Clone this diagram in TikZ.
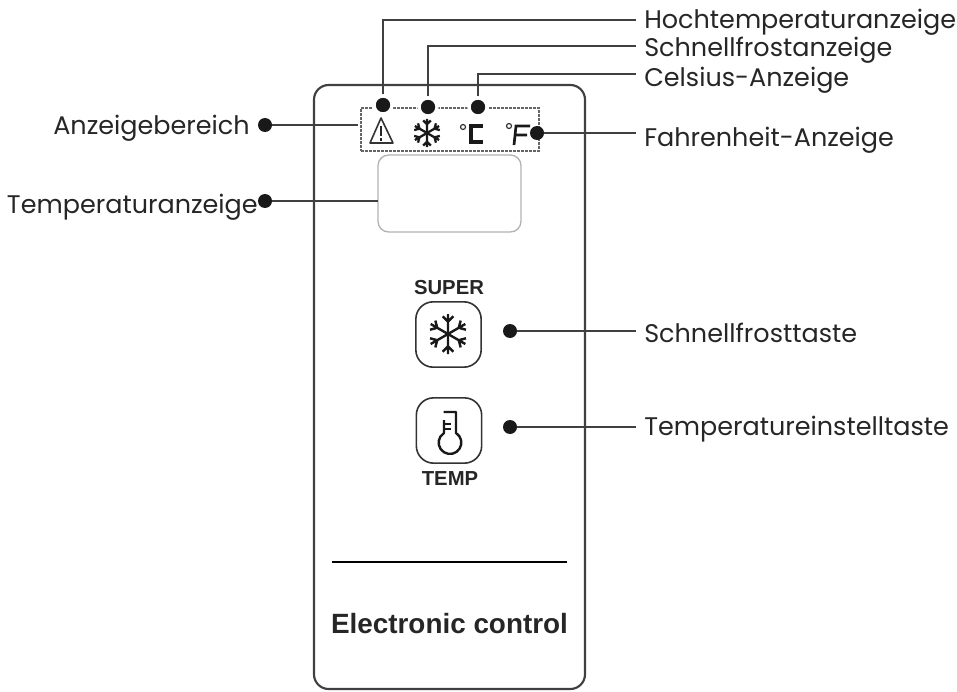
\documentclass[tikz,border=0pt]{standalone}
\usepackage{fontspec}
\setmainfont{Poppins}
\newfontfamily\panelfont{Liberation Sans}
\usetikzlibrary{calc}

% snowflake: #1 line options, #2 centre, #3 arm length, #4 barb length
\newcommand{\flake}[4][thick]{
  \foreach \ang in {30,90,150,210,270,330}{
    \draw[#1,rotate around={\ang:#2}] #2 -- ++(#3,0)
      ($#2+(0.62*#3,0)$) -- ++(45:#4)
      ($#2+(0.62*#3,0)$) -- ++(-45:#4);
  }
}

\begin{document}
\begin{tikzpicture}[x=0.75pt,y=-0.75pt,
    label node/.style={anchor=west,inner sep=3pt,text height=14pt,text depth=4pt,
                       font=\fontsize{19.1}{21}\selectfont,text=black!85},
    dot node/.style={circle,fill=black!90,inner sep=0pt,minimum size=14*0.75pt},
    halo node/.style={dot node,draw=white,line width=2.5pt,minimum size=18*0.75pt},
    lead/.style={line width=1.7pt,black!75},
    degree/.style={circle,draw=black!80,line width=0.9pt,inner sep=0pt,minimum size=5*0.75pt},
    panel text/.style={text=black!85,inner sep=0pt},
    key box/.style={draw=black!80,line width=1.2pt,rounded corners=13pt,inner sep=0pt,minimum size=49pt}]

  \useasboundingbox (0,0) rectangle (957,692);

  % panel
  \node[draw=black!75,line width=1.6pt,rounded corners=11pt,inner sep=0pt,
        minimum width=271*0.75pt,minimum height=604*0.75pt] (panel) at (449.5,387) {};
  \node[draw=black!60,dash pattern=on 2pt off 1pt,line width=1pt,inner sep=0pt,
        minimum width=178*0.75pt,minimum height=43*0.75pt] (area) at (450,129.5) {};
  \node[draw=black!30,line width=1pt,rounded corners=8pt,inner sep=0pt,
        minimum width=143*0.75pt,minimum height=77*0.75pt] (display) at (449.5,193.5) {};

  % symbols of the display row
  \draw[black!80,line width=1.2pt,line join=round] (370,143) -- (381,118) -- (393,143) -- cycle;
  \draw[black!85,line width=1.5pt] (381,126) -- (381,136) (381,138) -- (381,141);
  \flake[black!90,line width=1.7pt]{(427,133)}{14}{5.5}
  \node[degree] (degc) at (463,127) {};
  \draw[black!90,line width=2.3pt] (483,126) -- (471,126) -- (471,142) -- (483,142);
  \node[degree] (degf) at (509,126) {};
  \draw[black!90,line width=2pt] (514,145) -- (516,126) -- (530,126) (515,135) -- (527,135);

  % keys
  \node[panel text,font=\panelfont\bfseries\fontsize{15.2}{16}\selectfont] (super) at (449,288) {SUPER};
  \node[key box] (superkey) at (448.5,334.5) {};
  \flake[black!90,line width=1.8pt]{(448,334)}{20}{7.5}
  \node[key box] (tempkey) at (449,430.5) {};
  \draw[black!90,line width=1.8pt,line join=round]
    (443.5,412) -- (456,412) -- (456,433) arc[start angle=58,end angle=-238,radius=8.5pt]
    -- (444,420);
  \draw[black!90,line width=1.5pt] (444,424) -- (451,424) (444,429) -- (451,429);
  \node[panel text,font=\panelfont\bfseries\fontsize{15.2}{16}\selectfont] (temp) at (450,479) {TEMP};

  \draw[black,line width=2.2pt] (332,562) coordinate (rulel) -- (567,562) coordinate (ruler);
  \node[panel text,font=\panelfont\bfseries\fontsize{20.9}{22}\selectfont] (brand) at (449.5,624) {Electronic control};

  % labels
  \node[label node] (1) at (640,22) {Hochtemperaturanzeige};
  \node[label node] (2) at (640,50) {Schnellfrostanzeige};
  \node[label node] (3) at (640,80) {Celsius-Anzeige};
  \node[label node] (4) at (640,140) {Fahrenheit-Anzeige};
  \node[label node] (5) at (640,336) {Schnellfrosttaste};
  \node[label node] (6) at (640,429) {Temperatureinstelltaste};
  \node[label node,anchor=east] (7) at (254,128) {Anzeigebereich};
  \node[label node,anchor=east] (8) at (262,207) {Temperaturanzeige};

  % dots
  \node[halo node] (d1) at (383,105) {};
  \node[halo node] (d2) at (428,107) {};
  \node[halo node] (d3) at (478,107) {};
  \node[dot node] (d4) at (537,133) {};
  \node[dot node] (d5) at (510,331) {};
  \node[dot node] (d6) at (510,427) {};
  \node[dot node] (d7) at (265,125) {};
  \node[dot node] (d8) at (265,201) {};
  \coordinate (e7) at (358,125);
  \coordinate (e8) at (378,201);
  \coordinate (e1) at (636,20);
  \coordinate (e2) at (636,46);
  \coordinate (e3) at (636,74);
  \coordinate (e4) at (636,133);
  \coordinate (e5) at (636,331);
  \coordinate (e6) at (636,427);

  \draw[lead] (d1) |- (e1);
  \draw[lead] (d2) |- (e2);
  \draw[lead] (d3) |- (e3);
  \draw[lead] (d4) -- (e4);
  \draw[lead] (d5) -- (e5);
  \draw[lead] (d6) -- (e6);
  \draw[lead] (d7) -- (e7);
  \draw[lead] (d8) -- (e8);

\end{tikzpicture}
\end{document}
